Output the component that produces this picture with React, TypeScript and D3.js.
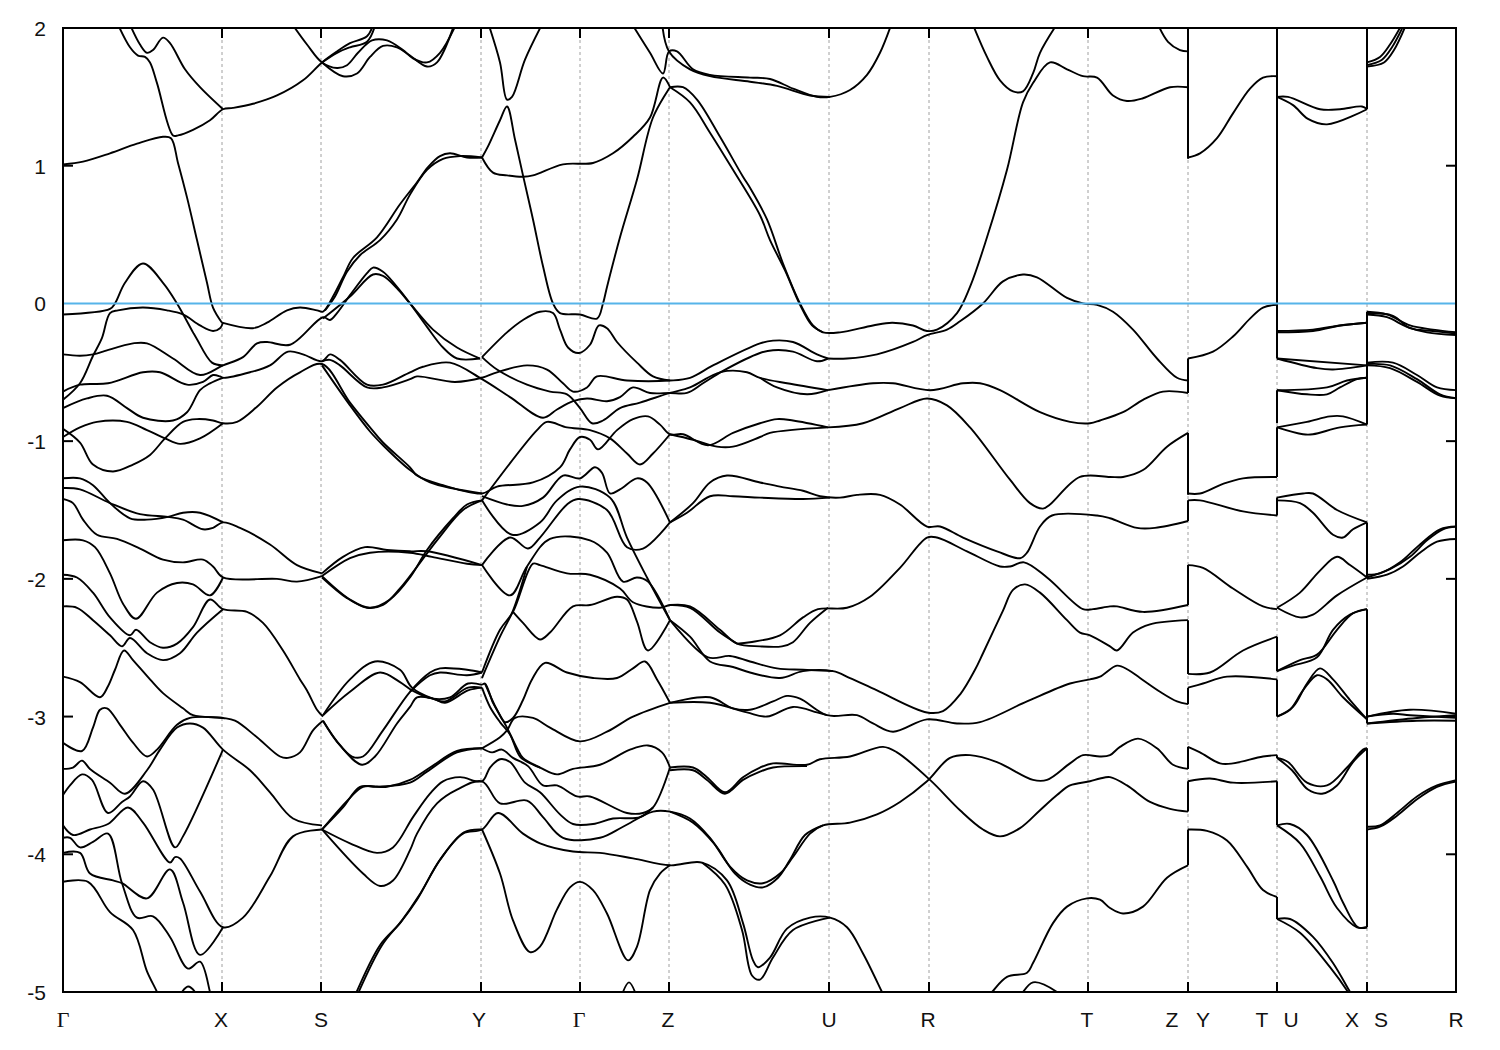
import React from "react";
import * as d3 from "d3";

const b01 = [0,1.01, 20,1.03, 47,1.09, 74,1.16, 100,1.21, 108,1.20, 115,1.02, 124,0.77, 134,0.46, 144,0.15, 150,-0.03, 159,-0.14];
const b02 = [159,-0.14, 190,-0.18, 204,-0.14, 224,-0.05, 237,-0.03, 254,-0.05, 260,-0.06, 270,0.05, 280,0.19, 290,0.33, 314,0.48, 337,0.72, 354,0.88, 365,0.99, 377,1.07, 387,1.09, 404,1.06, 419,1.06];
const b03 = [262,-0.05, 272,0.05, 284,0.23, 297,0.35, 317,0.46, 334,0.61, 347,0.79, 364,0.97, 380,1.05, 397,1.07, 419,1.06];
const b04 = [0,-0.08, 47,-0.04, 52,0, 62,0.15, 80,0.29, 100,0.15, 114,0, 130,-0.21, 134,-0.26, 149,-0.43, 160,-0.45];
const b05 = [0,-0.37, 17,-0.38, 30,-0.37, 40,-0.35, 70,-0.29, 84,-0.29, 110,-0.40, 137,-0.52, 160,-0.45, 180,-0.39, 194,-0.29, 204,-0.28, 227,-0.30, 260,-0.10, 267,-0.12, 274,-0.07, 287,0.06, 304,0.22, 310,0.26, 320,0.23, 334,0.12, 347,0, 364,-0.17, 380,-0.32, 394,-0.40, 417,-0.40];
const b06 = [260,-0.11, 287,0.05, 310,0.21, 320,0.20, 334,0.11, 347,0, 370,-0.19, 394,-0.32, 417,-0.40];
const b07 = [0,-0.70, 17,-0.58, 30,-0.38, 39,-0.25, 47,-0.07, 55,-0.05, 80,-0.03, 104,-0.05, 120,-0.08, 137,-0.16, 150,-0.20, 157,-0.18, 160,-0.14];
const b08 = [0,-0.64, 17,-0.59, 45,-0.58, 80,-0.50, 97,-0.50, 124,-0.59, 140,-0.57, 150,-0.52, 157,-0.53, 160,-0.54, 187,-0.50, 207,-0.45, 225,-0.35, 240,-0.37, 259,-0.42, 267,-0.37, 277,-0.41, 304,-0.59, 320,-0.59, 347,-0.50, 360,-0.46, 387,-0.43, 419,-0.55, 447,-0.68, 480,-0.83, 494,-0.77, 510,-0.71, 524,-0.69, 544,-0.71, 557,-0.68, 570,-0.61, 587,-0.65, 607,-0.65, 624,-0.65, 640,-0.58, 660,-0.49, 697,-0.36, 710,-0.34, 730,-0.35, 754,-0.42, 765,-0.40];
const b09 = [259,-0.42, 267,-0.41, 277,-0.45, 304,-0.61, 320,-0.61, 347,-0.55, 354,-0.53, 392,-0.57, 419,-0.54, 434,-0.50, 464,-0.45, 484,-0.48, 500,-0.58, 510,-0.64, 524,-0.61, 534,-0.53, 564,-0.56, 607,-0.56, 627,-0.54, 650,-0.45, 697,-0.29, 710,-0.27, 730,-0.28, 754,-0.37, 765,-0.40];
const b10 = [765,-0.40, 784,-0.40, 814,-0.37, 850,-0.28, 864,-0.23, 884,-0.19, 897,-0.13, 920,0, 940,0.16, 960,0.21, 974,0.19, 1004,0.04, 1020,0, 1034,-0.01, 1050,-0.06, 1070,-0.19, 1094,-0.40, 1114,-0.54, 1125,-0.56];
const b11 = [0,-0.76, 24,-0.69, 44,-0.67, 64,-0.76, 80,-0.83, 110,-0.85, 124,-0.79, 137,-0.63, 147,-0.58, 160,-0.54];
const b12 = [0,-0.91, 17,-1.01, 30,-1.17, 50,-1.22, 70,-1.17, 87,-1.10, 102,-0.98, 120,-0.86, 134,-0.84, 150,-0.85, 160,-0.87, 174,-0.86, 194,-0.75, 214,-0.61, 237,-0.50, 259,-0.44, 287,-0.72, 307,-0.90, 320,-1.01, 347,-1.19, 354,-1.25, 380,-1.32, 419,-1.38, 434,-1.33, 470,-1.30, 497,-1.19, 507,-1.06, 517,-0.97, 527,-0.99, 535,-1.06, 554,-0.92, 570,-0.84, 585,-0.82, 597,-0.88, 607,-0.95, 620,-0.95, 645,-1.03, 670,-0.94, 697,-0.87, 714,-0.84, 730,-0.85, 765,-0.90];
const b13 = [259,-0.45, 287,-0.74, 307,-0.93, 320,-1.03, 347,-1.21, 367,-1.30, 419,-1.38];
const b14 = [0,-0.97, 17,-0.90, 34,-0.86, 64,-0.86, 84,-0.92, 102,-0.98, 117,-1.02, 137,-0.98, 160,-0.87];
const b15 = [0,-1.27, 17,-1.27, 30,-1.32, 47,-1.45, 67,-1.56, 84,-1.57, 105,-1.55, 120,-1.52, 137,-1.52, 160,-1.59];
const b16 = [0,-1.34, 17,-1.35, 47,-1.45, 77,-1.53, 105,-1.55, 120,-1.57, 140,-1.64, 150,-1.63, 160,-1.59, 177,-1.63, 207,-1.75, 234,-1.90, 259,-1.96];
const b17 = [0,-1.42, 10,-1.45, 20,-1.57, 34,-1.68, 54,-1.71, 77,-1.78, 100,-1.86, 120,-1.88, 140,-1.86, 150,-1.91, 160,-1.99, 214,-2.00, 234,-2.02, 259,-1.98];
const b18 = [0,-1.72, 20,-1.72, 32,-1.77, 47,-1.96, 60,-2.18, 73,-2.29, 94,-2.10, 114,-2.03, 130,-2.04, 147,-2.12, 160,-1.99];
const b19 = [0,-1.97, 14,-1.99, 30,-2.10, 47,-2.28, 67,-2.41, 73,-2.37, 87,-2.46, 100,-2.50, 114,-2.47, 130,-2.35, 147,-2.15, 160,-2.22, 184,-2.24, 200,-2.32, 220,-2.52, 237,-2.73, 244,-2.81, 254,-2.95, 260,-3.00];
const b20 = [0,-2.20, 14,-2.21, 30,-2.30, 47,-2.41, 59,-2.49, 67,-2.43, 84,-2.54, 100,-2.59, 117,-2.54, 134,-2.39, 160,-2.22];
const b21 = [0,-2.71, 17,-2.75, 37,-2.86, 45,-2.78, 52,-2.66, 61,-2.52, 70,-2.59, 87,-2.73, 100,-2.83, 120,-2.94, 130,-2.99, 160,-3.01, 172,-3.03, 194,-3.15, 217,-3.29, 225,-3.30, 237,-3.26, 250,-3.10, 260,-3.03];
const b22 = [0,-3.19, 19,-3.25, 30,-3.08, 37,-2.95, 44,-2.94, 57,-3.06, 70,-3.19, 84,-3.29, 94,-3.24, 114,-3.06, 127,-3.01, 160,-3.01];
const b23 = [0,-3.38, 10,-3.37, 19,-3.32, 27,-3.38, 47,-3.48, 62,-3.56, 84,-3.39, 97,-3.24, 114,-3.08, 127,-3.05, 140,-3.08, 160,-3.24, 187,-3.39, 207,-3.55, 230,-3.74, 259,-3.79];
const b24 = [0,-3.57, 7,-3.50, 19,-3.42, 29,-3.46, 45,-3.70, 59,-3.62, 67,-3.58, 80,-3.47, 90,-3.53, 112,-3.95, 120,-3.87, 160,-3.24];
const b25 = [0,-3.79, 10,-3.86, 27,-3.82, 45,-3.78, 65,-3.66, 80,-3.77, 107,-4.06, 112,-4.02, 117,-4.03, 137,-4.27, 160,-4.53, 180,-4.46, 207,-4.16, 230,-3.87, 259,-3.82];
const b26 = [0,-3.88, 7,-3.88, 17,-3.95, 30,-3.91, 45,-3.85, 59,-4.21, 74,-4.46, 90,-4.45, 107,-4.60, 125,-4.83, 137,-4.78, 147,-5.0, 149,-5.06];
const b27 = [0,-3.99, 17,-3.99, 27,-4.14, 50,-4.19, 59,-4.21, 84,-4.32, 107,-4.11, 120,-4.35, 137,-4.73, 160,-4.53];
const b28 = [0,-4.20, 25,-4.20, 47,-4.42, 70,-4.55, 84,-4.85, 94,-5.0, 97,-5.06];
const b29 = [115,-5.06, 119,-5.0, 125,-4.96, 132,-5.0, 135,-5.06];
const b30 = [54,2.04, 67,1.86, 75,1.80, 82,1.79, 87,1.75, 94,1.60, 110,1.22, 115,1.22, 130,1.26, 147,1.33, 160,1.41, 170,1.42, 190,1.45, 214,1.51, 240,1.62, 259,1.75, 274,1.83, 287,1.89, 304,1.94, 311,2.04];
const b31 = [66,2.04, 77,1.88, 84,1.82, 90,1.84, 100,1.93, 107,1.89, 122,1.70, 137,1.57, 160,1.41];
const b32 = [228,2.04, 244,1.88, 259,1.75, 274,1.71, 284,1.73, 295,1.82, 309,1.91, 324,1.91, 340,1.84, 350,1.78, 364,1.75, 377,1.82, 394,2.04];
const b33 = [259,1.75, 280,1.65, 294,1.67, 307,1.79, 320,1.87, 334,1.86, 347,1.80, 364,1.72, 374,1.75, 392,2.04];
const b34 = [259,1.75, 274,1.82, 287,1.86, 304,1.90, 313,2.04];
const b35 = [419,1.06, 425,1.14, 437,1.33, 444,1.43, 452,1.19, 460,0.93, 470,0.61, 480,0.27, 490,0, 497,-0.07, 517,-0.08, 534,-0.11, 540,0, 544,0.12, 557,0.48, 574,0.90, 590,1.35, 607,1.57];
const b36 = [419,1.06, 430,0.95, 444,0.93, 460,0.92, 470,0.93, 500,1.01, 530,1.02, 550,1.09, 570,1.21, 587,1.35, 600,1.64, 607,1.57];
const b37 = [568,2.04, 587,1.82, 600,1.67, 606,1.83, 614,1.83, 630,1.70, 647,1.66, 687,1.64, 707,1.63, 730,1.56, 754,1.50, 767,1.50, 787,1.55, 804,1.66, 817,1.82, 829,2.04];
const b38 = [599,2.04, 606,1.83, 627,1.70, 647,1.65, 687,1.61, 714,1.58, 747,1.51, 767,1.50];
const b39 = [607,1.57, 620,1.57, 634,1.48, 657,1.21, 680,0.92, 687,0.84, 704,0.61, 720,0.29, 737,0, 750,-0.16, 760,-0.21, 777,-0.21, 810,-0.16, 829,-0.14, 850,-0.16, 864,-0.20, 874,-0.19, 894,-0.07, 907,0.12, 924,0.48, 944,0.97, 960,1.46, 970,1.60, 987,1.75, 1004,1.70, 1020,1.65, 1034,1.64, 1050,1.51, 1064,1.47, 1080,1.49, 1107,1.57, 1125,1.57];
const b40 = [607,1.57, 627,1.46, 647,1.24, 670,0.97, 697,0.64, 707,0.46, 722,0.24, 737,-0.01, 749,-0.16, 760,-0.21];
const b41 = [909,2.04, 924,1.79, 937,1.62, 950,1.54, 960,1.54, 970,1.67, 977,1.82, 995,2.04];
const b42 = [1094,2.04, 1105,1.90, 1117,1.84, 1125,1.83];
const b43 = [1125,1.06, 1137,1.09, 1154,1.20, 1170,1.38, 1187,1.56, 1200,1.64, 1214,1.65];
const b44 = [1214,1.50, 1225,1.50, 1257,1.41, 1277,1.41, 1299,1.43, 1304,1.41];
const b45 = [1214,1.50, 1230,1.44, 1245,1.34, 1264,1.30, 1304,1.41];
const b46 = [1304,1.75, 1317,1.79, 1327,1.88, 1340,2.04];
const b47 = [1304,1.73, 1319,1.77, 1329,1.86, 1342,2.04];
const b48 = [1304,1.72, 1321,1.75, 1331,1.84, 1344,2.04];
const b49 = [1125,-0.40, 1150,-0.35, 1170,-0.24, 1187,-0.11, 1200,-0.03, 1214,-0.01];
const b50 = [1214,-0.21, 1250,-0.20, 1277,-0.16, 1304,-0.14];
const b51 = [1214,-0.20, 1250,-0.19, 1277,-0.16, 1304,-0.14];
const b52 = [1214,-0.40, 1304,-0.45];
const b53 = [1214,-0.40, 1254,-0.47, 1270,-0.48, 1304,-0.45];
const b54 = [1304,-0.06, 1324,-0.08, 1347,-0.16, 1370,-0.19, 1394,-0.21];
const b55 = [1304,-0.08, 1324,-0.10, 1344,-0.17, 1364,-0.21, 1394,-0.23];
const b56 = [1304,-0.07, 1330,-0.09, 1347,-0.18, 1370,-0.20, 1394,-0.22];
const b57 = [1304,-0.43, 1330,-0.43, 1354,-0.52, 1374,-0.61, 1394,-0.63];
const b58 = [1304,-0.44, 1327,-0.45, 1354,-0.55, 1377,-0.66, 1394,-0.69];
const b59 = [1304,-0.45, 1327,-0.47, 1354,-0.57, 1377,-0.67, 1394,-0.69];
const b60 = [1214,-0.63, 1264,-0.61, 1284,-0.56, 1304,-0.54];
const b61 = [1214,-0.63, 1244,-0.66, 1264,-0.66, 1277,-0.61, 1294,-0.55, 1304,-0.54];
const b62 = [1214,-0.90, 1240,-0.95, 1250,-0.95, 1277,-0.90, 1304,-0.88];
const b63 = [1214,-0.90, 1244,-0.86, 1267,-0.82, 1280,-0.82, 1304,-0.88];
const b64 = [1125,-1.38, 1137,-1.38, 1160,-1.31, 1180,-1.27, 1214,-1.26];
const b65 = [1214,-1.41, 1240,-1.38, 1250,-1.38, 1274,-1.50, 1304,-1.59];
const b66 = [1214,-1.43, 1237,-1.45, 1250,-1.52, 1270,-1.68, 1280,-1.70, 1290,-1.64, 1304,-1.59];
const b67 = [1125,-1.43, 1137,-1.43, 1180,-1.51, 1214,-1.54];
const b68 = [1125,-1.90, 1140,-1.92, 1170,-2.07, 1200,-2.20, 1214,-2.22];
const b69 = [1214,-2.21, 1237,-2.10, 1257,-1.94, 1274,-1.84, 1287,-1.90, 1304,-1.99];
const b70 = [1214,-2.21, 1237,-2.28, 1250,-2.26, 1274,-2.12, 1304,-1.99];
const b71 = [1125,-2.69, 1147,-2.68, 1180,-2.52, 1214,-2.42];
const b72 = [1214,-2.67, 1237,-2.59, 1254,-2.55, 1274,-2.37, 1290,-2.25, 1304,-2.22];
const b73 = [1214,-2.67, 1230,-2.63, 1254,-2.57, 1270,-2.37, 1287,-2.26, 1304,-2.22];
const b74 = [1214,-3.00, 1227,-2.95, 1240,-2.81, 1254,-2.70, 1264,-2.73, 1280,-2.86, 1304,-3.02];
const b75 = [1214,-3.00, 1230,-2.93, 1244,-2.76, 1257,-2.65, 1270,-2.73, 1287,-2.88, 1304,-3.02];
const b76 = [1125,-2.79, 1140,-2.76, 1164,-2.71, 1214,-2.73];
const b77 = [1304,-3.00, 1347,-2.95, 1394,-2.98];
const b78 = [1304,-3.05, 1354,-3.01, 1394,-2.99];
const b79 = [1304,-3.00, 1330,-2.98, 1347,-2.99, 1394,-3.01];
const b80 = [1304,-3.05, 1354,-3.03, 1394,-3.03];
const b81 = [1125,-3.22, 1137,-3.26, 1157,-3.34, 1170,-3.34, 1200,-3.29, 1214,-3.28];
const b82 = [1214,-3.30, 1225,-3.33, 1244,-3.48, 1264,-3.50, 1284,-3.37, 1300,-3.24, 1304,-3.23];
const b83 = [1214,-3.30, 1229,-3.39, 1245,-3.53, 1259,-3.56, 1274,-3.50, 1290,-3.33, 1304,-3.23];
const b84 = [1125,-3.47, 1147,-3.45, 1170,-3.48, 1214,-3.47];
const b85 = [1214,-3.79, 1227,-3.78, 1244,-3.86, 1270,-4.19, 1280,-4.35, 1295,-4.53, 1304,-4.53];
const b86 = [1214,-3.79, 1237,-3.92, 1257,-4.16, 1274,-4.39, 1294,-4.53, 1304,-4.53];
const b87 = [1125,-3.82, 1144,-3.83, 1164,-3.90, 1184,-4.09, 1200,-4.26, 1214,-4.31];
const b88 = [1214,-4.47, 1227,-4.47, 1250,-4.60, 1270,-4.79, 1287,-5.0, 1292,-5.06];
const b89 = [1214,-4.47, 1237,-4.57, 1267,-4.82, 1285,-5.0, 1290,-5.06];
const b90 = [1304,-3.80, 1317,-3.79, 1334,-3.70, 1354,-3.58, 1374,-3.50, 1394,-3.46];
const b91 = [1304,-3.82, 1317,-3.80, 1334,-3.72, 1354,-3.60, 1374,-3.51, 1394,-3.47];
const b92 = [1304,-1.97, 1317,-1.96, 1337,-1.88, 1357,-1.75, 1377,-1.64, 1394,-1.62];
const b93 = [1304,-2.00, 1324,-1.97, 1340,-1.91, 1357,-1.81, 1374,-1.73, 1394,-1.71];
const b94 = [1304,-1.99, 1327,-1.93, 1347,-1.84, 1364,-1.72, 1380,-1.64, 1394,-1.62];
const b95 = [419,-0.39, 434,-0.48, 464,-0.59, 487,-0.64, 504,-0.66, 517,-0.76, 529,-0.87, 540,-0.85, 557,-0.76, 577,-0.72, 607,-0.65, 627,-0.61, 650,-0.52, 664,-0.49, 684,-0.50, 697,-0.54, 724,-0.58, 765,-0.63];
const b96 = [697,-0.54, 714,-0.61, 744,-0.66, 765,-0.63];
const b97 = [419,-0.39, 444,-0.21, 460,-0.12, 477,-0.06, 490,-0.07, 497,-0.19, 505,-0.32, 516,-0.36, 527,-0.30, 536,-0.16, 544,-0.18, 554,-0.28, 574,-0.43, 590,-0.53, 607,-0.56];
const b98 = [765,-0.63, 810,-0.58, 830,-0.58, 867,-0.63, 900,-0.58, 917,-0.58, 937,-0.63, 977,-0.79, 1007,-0.86, 1027,-0.87, 1037,-0.85, 1060,-0.79, 1080,-0.70, 1100,-0.64, 1125,-0.65];
const b99 = [765,-0.90, 800,-0.87, 837,-0.76, 864,-0.69, 884,-0.74, 907,-0.90, 947,-1.28, 967,-1.45, 980,-1.49, 987,-1.46, 1017,-1.26, 1047,-1.26, 1060,-1.26, 1080,-1.21, 1104,-1.04, 1125,-0.94];
const c01 = [607,-0.95, 630,-0.99, 654,-1.04, 670,-1.04, 697,-0.97, 707,-0.94, 765,-0.90];
const c02 = [419,-1.43, 474,-0.92, 484,-0.86, 504,-0.90, 527,-0.92, 547,-0.98, 564,-1.09, 577,-1.17, 590,-1.09, 607,-0.95];
const c03 = [259,-1.96, 280,-1.84, 302,-1.77, 324,-1.79, 347,-1.80, 364,-1.80, 419,-1.90];
const c04 = [259,-1.98, 287,-1.85, 307,-1.81, 347,-1.81, 369,-1.84, 404,-1.89, 419,-1.90];
const c05 = [259,-1.98, 287,-2.15, 307,-2.21, 327,-2.15, 347,-1.99, 364,-1.79, 390,-1.56, 404,-1.46, 419,-1.43];
const c06 = [259,-1.99, 284,-2.14, 304,-2.21, 320,-2.19, 337,-2.07, 374,-1.72, 400,-1.50, 419,-1.43];
const c07 = [419,-1.40, 444,-1.46, 460,-1.47, 480,-1.41, 500,-1.25, 517,-1.27, 532,-1.19, 539,-1.23, 547,-1.38, 557,-1.35, 574,-1.27, 584,-1.30, 607,-1.59];
const c08 = [607,-1.59, 630,-1.45, 647,-1.30, 664,-1.25, 697,-1.30, 717,-1.33, 740,-1.36, 757,-1.40, 777,-1.41, 794,-1.39, 817,-1.39, 837,-1.46, 864,-1.62, 877,-1.62, 900,-1.70, 934,-1.80, 957,-1.85, 964,-1.81, 977,-1.62, 989,-1.54, 1034,-1.54, 1047,-1.56, 1074,-1.63, 1092,-1.63, 1125,-1.58];
const c09 = [607,-1.59, 624,-1.52, 647,-1.40, 670,-1.40, 697,-1.41, 740,-1.42, 767,-1.41];
const c10 = [419,-1.43, 449,-1.68, 477,-1.59, 494,-1.43, 517,-1.33, 547,-1.41, 564,-1.70, 584,-1.99, 607,-2.30];
const c11 = [419,-1.90, 447,-1.70, 465,-1.78, 477,-1.70, 504,-1.46, 515,-1.42, 544,-1.50, 564,-1.77, 580,-1.78, 607,-1.59];
const c12 = [419,-1.90, 447,-2.12, 464,-1.91, 487,-1.71, 527,-1.72, 544,-1.81, 560,-2.02, 574,-1.99, 585,-2.02, 607,-2.30];
const c13 = [419,-2.68, 437,-2.37, 450,-2.24, 470,-1.89, 477,-1.90, 504,-1.96, 527,-1.97, 557,-2.07, 570,-2.17, 597,-2.21, 607,-2.19, 627,-2.20, 657,-2.37, 674,-2.47, 697,-2.49, 719,-2.49, 730,-2.46, 747,-2.32, 765,-2.21];
const c14 = [419,-2.72, 437,-2.42, 450,-2.23, 464,-1.91];
const c15 = [674,-2.47, 687,-2.46, 717,-2.41, 740,-2.28, 755,-2.22, 784,-2.21, 807,-2.13, 837,-1.92, 864,-1.70, 874,-1.70, 904,-1.80, 937,-1.91, 947,-1.91, 961,-1.88, 984,-1.99, 1020,-2.22, 1030,-2.22, 1047,-2.20, 1054,-2.20, 1080,-2.24, 1125,-2.19];
const c16 = [450,-2.24, 460,-2.32, 477,-2.44, 487,-2.39, 510,-2.20, 527,-2.19, 554,-2.13, 564,-2.15, 574,-2.31, 585,-2.52, 607,-2.30];
const c17 = [607,-2.30, 627,-2.42, 647,-2.60, 670,-2.64, 687,-2.68, 717,-2.72, 740,-2.67, 770,-2.67, 787,-2.72, 814,-2.81, 864,-2.97, 880,-2.96, 897,-2.84, 912,-2.66, 920,-2.54, 940,-2.23, 950,-2.08, 962,-2.04, 977,-2.10, 1004,-2.30, 1017,-2.39, 1027,-2.41, 1047,-2.49, 1054,-2.52, 1070,-2.39, 1087,-2.33, 1125,-2.30];
const c18 = [607,-2.30, 645,-2.57, 667,-2.56, 687,-2.60, 714,-2.65, 740,-2.66, 770,-2.67];
const c19 = [607,-2.19, 627,-2.21, 657,-2.39, 674,-2.47];
const c20 = [419,-2.77, 422,-2.76, 430,-2.90, 437,-2.99, 444,-3.08, 454,-3.23, 460,-3.30, 477,-3.37, 494,-3.42, 510,-3.38, 537,-3.35, 567,-3.24, 585,-3.21, 599,-3.26, 607,-3.37];
const c21 = [419,-2.79, 427,-2.93, 437,-3.04, 447,-3.13, 457,-3.29, 470,-3.35, 477,-3.37];
const c22 = [422,-2.76, 434,-2.95, 442,-3.04, 450,-3.01, 460,-2.88, 469,-2.73, 482,-2.61, 504,-2.68, 530,-2.72, 554,-2.72, 570,-2.65, 582,-2.60, 594,-2.73, 607,-2.90];
const c23 = [607,-2.90, 647,-2.86, 670,-2.94, 687,-2.95, 710,-2.89, 724,-2.85, 737,-2.87, 764,-2.99, 794,-2.99, 810,-3.05, 830,-3.11, 864,-3.02, 894,-3.05, 917,-3.04, 964,-2.89, 1007,-2.76, 1027,-2.73, 1037,-2.71, 1054,-2.63, 1065,-2.66, 1077,-2.72, 1097,-2.82, 1114,-2.89, 1125,-2.91];
const c24 = [607,-2.90, 647,-2.90, 684,-2.97, 704,-3.00, 730,-2.93, 754,-2.97, 764,-2.99];
const c25 = [419,-3.23, 437,-3.15, 444,-3.10, 452,-3.01, 470,-3.01, 487,-3.08, 517,-3.18, 544,-3.11, 570,-3.00, 607,-2.90];
const c26 = [259,-3.82, 280,-3.66, 297,-3.51, 314,-3.51, 347,-3.48, 364,-3.40, 394,-3.26, 419,-3.23];
const c27 = [259,-3.82, 287,-3.59, 300,-3.51, 324,-3.51, 347,-3.46, 367,-3.37, 394,-3.25, 419,-3.23];
const c28 = [419,-3.23, 429,-3.26, 439,-3.24, 450,-3.30, 465,-3.36, 480,-3.50, 494,-3.50, 514,-3.58, 527,-3.58, 564,-3.70, 580,-3.70, 590,-3.66, 607,-3.37];
const c29 = [259,-3.82, 287,-3.92, 314,-3.99, 330,-3.95, 350,-3.73, 367,-3.56, 380,-3.47, 397,-3.44, 419,-3.47, 427,-3.37, 437,-3.31, 447,-3.33, 462,-3.48, 477,-3.55, 497,-3.71, 510,-3.78, 530,-3.78, 550,-3.74, 577,-3.73, 590,-3.66];
const c30 = [259,-3.82, 300,-4.14, 317,-4.23, 330,-4.19, 347,-3.97, 354,-3.85, 374,-3.63, 394,-3.53, 419,-3.47, 437,-3.63, 464,-3.61, 480,-3.73, 500,-3.88, 537,-3.88, 560,-3.80, 590,-3.69, 607,-3.69, 627,-3.74, 647,-3.88, 667,-4.09, 684,-4.19, 700,-4.21, 717,-4.14, 730,-4.02, 747,-3.85, 760,-3.79, 787,-3.77, 814,-3.71, 837,-3.62, 864,-3.47, 887,-3.30, 907,-3.28, 934,-3.33, 970,-3.46, 984,-3.46, 1007,-3.34, 1020,-3.28, 1037,-3.29, 1047,-3.28, 1057,-3.22, 1075,-3.16, 1094,-3.23, 1110,-3.35, 1125,-3.38];
const c31 = [607,-3.69, 630,-3.77, 652,-3.93, 672,-4.14, 687,-4.22, 700,-4.24, 715,-4.17, 727,-4.04, 742,-3.86, 760,-3.79];
const c32 = [607,-3.37, 630,-3.37, 644,-3.44, 662,-3.55, 680,-3.44, 697,-3.37, 710,-3.34, 744,-3.35, 757,-3.31, 787,-3.29, 820,-3.22, 834,-3.26, 867,-3.46, 897,-3.68, 920,-3.82, 937,-3.87, 957,-3.81, 977,-3.68, 994,-3.57, 1007,-3.50, 1027,-3.47, 1037,-3.45, 1047,-3.44, 1064,-3.50, 1087,-3.62, 1107,-3.67, 1125,-3.69];
const c33 = [607,-3.39, 630,-3.39, 644,-3.46, 662,-3.56, 680,-3.46, 697,-3.40, 710,-3.37, 744,-3.36];
const c34 = [290,-5.06, 317,-4.66, 337,-4.50, 354,-4.33, 377,-4.04, 400,-3.85, 419,-3.82, 435,-3.70, 460,-3.85, 477,-3.92, 510,-3.98, 537,-3.99, 570,-4.03, 607,-4.08, 639,-4.06, 664,-4.19, 680,-4.50, 690,-4.77, 695,-4.82, 707,-4.75, 724,-4.54, 747,-4.46, 767,-4.46, 784,-4.53, 800,-4.72, 819,-5.0, 823,-5.06];
const c35 = [292,-5.06, 319,-4.66, 339,-4.48, 356,-4.30, 378,-4.03, 401,-3.84, 419,-3.82];
const c36 = [639,-4.06, 662,-4.22, 679,-4.55, 689,-4.88, 697,-4.91, 710,-4.75, 730,-4.55, 767,-4.46];
const c37 = [419,-3.82, 437,-4.14, 450,-4.48, 467,-4.71, 477,-4.67, 494,-4.40, 507,-4.24, 517,-4.20, 530,-4.26, 544,-4.43, 565,-4.77, 574,-4.67, 587,-4.26, 597,-4.14, 607,-4.08];
const c38 = [557,-5.06, 566,-4.93, 575,-5.06];
const c39 = [922,-5.06, 929,-5.0, 944,-4.89, 964,-4.86, 970,-4.79, 990,-4.50, 1004,-4.38, 1024,-4.32, 1037,-4.33, 1047,-4.39, 1060,-4.43, 1080,-4.38, 1104,-4.17, 1125,-4.08];
const c40 = [955,-5.06, 970,-4.93, 994,-5.0, 1002,-5.06];
const c41 = [260,-2.99, 287,-2.73, 312,-2.60, 337,-2.66, 349,-2.79, 370,-2.87, 382,-2.89, 405,-2.79, 419,-2.79];
const c42 = [260,-2.99, 287,-2.82, 317,-2.68, 337,-2.75, 349,-2.81, 370,-2.87, 387,-2.86, 405,-2.76, 419,-2.77];
const c43 = [260,-3.03, 274,-3.18, 289,-3.29, 300,-3.29, 320,-3.10, 347,-2.82, 367,-2.68, 377,-2.65, 404,-2.66, 419,-2.68];
const c44 = [260,-3.03, 277,-3.21, 299,-3.35, 312,-3.29, 334,-3.05, 347,-2.93, 354,-2.86, 370,-2.87, 382,-2.90, 405,-2.81, 419,-2.79];
const c45 = [347,-2.82, 367,-2.70, 377,-2.68, 404,-2.70, 419,-2.68];
const c46 = [425,2.04, 437,1.75, 444,1.48, 449,1.50, 462,1.77, 480,2.04];

const bands = [b01,b02,b03,b04,b05,b06,b07,b08,b09,b10,b11,b12,b13,b14,b15,b16,b17,b18,b19,b20,b21,b22,b23,b24,b25,b26,b27,b28,b29,b30,b31,b32,b33,b34,b35,b36,b37,b38,b39,b40,b41,b42,b43,b44,b45,b46,b47,b48,b49,b50,b51,b52,b53,b54,b55,b56,b57,b58,b59,b60,b61,b62,b63,b64,b65,b66,b67,b68,b69,b70,b71,b72,b73,b74,b75,b76,b77,b78,b79,b80,b81,b82,b83,b84,b85,b86,b87,b88,b89,b90,b91,b92,b93,b94,b95,b96,b97,b98,b99,c01,c02,c03,c04,c05,c06,c07,c08,c09,c10,c11,c12,c13,c14,c15,c16,c17,c18,c19,c20,c21,c22,c23,c24,c25,c26,c27,c28,c29,c30,c31,c32,c33,c34,c35,c36,c37,c38,c39,c40,c41,c42,c43,c44,c45,c46];

// Band jumps across the path breaks Z|Y, T|U and X|S
const breakK = [1125, 1214, 1304];
const jumpsZY = [[2.1,1.05],[-0.40,-0.65],[-0.94,-1.39],[-1.43,-1.58],[-1.90,-2.19],[-2.30,-2.69],[-2.79,-2.91],[-3.22,-3.38],[-3.47,-3.69],[-3.82,-4.08]];
const jumpsTU = [[2.1,-0.40],[-0.63,-0.87],[-0.90,-1.26],[-1.41,-1.54],[-2.42,-2.67],[-2.73,-3.00],[-3.28,-3.30],[-3.47,-3.79],[-4.31,-4.47]];
const jumpsXS = [[2.1,1.41],[-0.06,-0.88],[-1.59,-1.99],[-2.22,-3.05],[-3.23,-4.53]];
const jumps = [jumpsZY, jumpsTU, jumpsXS];

const nodeK = [159, 258, 418, 517, 606, 766, 866, 1025, 1125, 1214, 1304];
const labelK = [0, 158, 258, 416, 516, 605, 766, 865, 1024, 1109, 1140, 1199, 1228, 1289, 1318, 1393];
const labelText = ["Γ","X","S","Y","Γ","Z","U","R","T","Z","Y","T","U","X","S","R"];
const yTicks = [2, 1, 0, -1, -2, -3, -4, -5];

const margin = { left: 63, right: 1456, top: 28, bottom: 992 };
const x = d3.scaleLinear().domain([0, 1393]).range([margin.left, margin.right]);
const y = d3.scaleLinear().domain([-5, 2]).range([margin.bottom, margin.top]);
const line = d3.line<number[]>().x(d => x(d[0])).y(d => y(d[1])).curve(d3.curveCatmullRom.alpha(0.5));
const toPairs = (f: number[]) => d3.range(0, f.length, 2).map(i => [f[i], f[i + 1]]);
const sans = "'Liberation Sans', Arial, sans-serif";

export default function App() {
  return (
    <svg width={1500} height={1050} style={{ position: "absolute", left: 0, top: 0, background: "#fff" }}>
      <defs>
        <clipPath id="plot"><rect x={margin.left} y={margin.top} width={margin.right - margin.left} height={margin.bottom - margin.top} /></clipPath>
      </defs>
      {nodeK.map((k, i) => (
        <line key={i} x1={x(k)} x2={x(k)} y1={margin.top} y2={margin.bottom} stroke="#a0a0a0" strokeWidth={1} strokeDasharray="3,3" />
      ))}
      <g clipPath="url(#plot)" fill="none" stroke="#000" strokeWidth={1.9} strokeLinejoin="round">
        {bands.map((b, i) => <path key={i} d={line(toPairs(b)) as string} />)}
        {jumps.map((js, i) => js.map((j, n) => (
          <line key={`${i}-${n}`} x1={x(breakK[i])} x2={x(breakK[i])} y1={y(j[0])} y2={y(j[1])} strokeWidth={2} />
        )))}
      </g>
      <line x1={margin.left} x2={margin.right} y1={y(0)} y2={y(0)} stroke="#56B4E9" strokeWidth={2} />
      <rect x={margin.left} y={margin.top} width={margin.right - margin.left} height={margin.bottom - margin.top} fill="none" stroke="#000" strokeWidth={2} />
      {yTicks.map(t => (
        <g key={t}>
          {t > -5 && t < 2 && t !== 0 && (
            <>
              <line x1={margin.left} x2={margin.left + 10} y1={y(t)} y2={y(t)} stroke="#000" strokeWidth={2} />
              <line x1={margin.right - 10} x2={margin.right} y1={y(t)} y2={y(t)} stroke="#000" strokeWidth={2} />
            </>
          )}
          <text x={46} y={y(t) + 8} textAnchor="end" fontFamily={sans} fontSize={21} fill="#111">{t}</text>
        </g>
      ))}
      {nodeK.map((k, i) => (
        <g key={i} stroke="#000" strokeWidth={2}>
          <line x1={x(k)} x2={x(k)} y1={margin.top} y2={margin.top + 10} />
          <line x1={x(k)} x2={x(k)} y1={margin.bottom - 10} y2={margin.bottom} />
        </g>
      ))}
      {labelK.map((k, i) => (
        <text key={i} x={x(k)} y={1027} textAnchor="middle" fontSize={labelText[i] === "Γ" ? 22 : 21}
          fontFamily={labelText[i] === "Γ" ? "'Liberation Serif', serif" : sans} fill="#111">{labelText[i]}</text>
      ))}
    </svg>
  );
}
